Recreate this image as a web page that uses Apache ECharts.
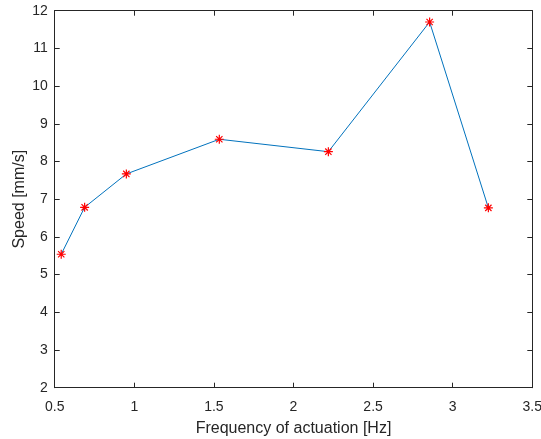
<!DOCTYPE html>
<html>
<head>
<meta charset="utf-8">
<script src="https://cdn.jsdelivr.net/npm/echarts@6/dist/echarts.min.js"></script>
<style>
html,body{margin:0;padding:0;background:#fff;}
#main{width:541px;height:439px;}
</style>
</head>
<body>
<div id="main"></div>
<script>
// measured points
var freq = [0.541, 0.688, 0.95, 1.534, 2.219, 2.855, 3.224];
var speed = [5.54, 6.785, 7.67, 8.59, 8.26, 11.70, 6.77];
var xTicks = [0.5, 1, 1.5, 2, 2.5, 3, 3.5];
var yTicks = [2, 3, 4, 5, 6, 7, 8, 9, 10, 11, 12];

var pts = freq.map(function(f, i){ return [f, speed[i]]; });
var axisColor = '#262626';
var font = 'Liberation Sans, Arial, sans-serif';
var star = 'path://M0 -5 L0 5 M-5 0 L5 0 M-3.5 -3.5 L3.5 3.5 M-3.5 3.5 L3.5 -3.5';

function xAx(pos, show){
    return {
        type: 'value', position: pos,
        min: xTicks[0], max: xTicks[xTicks.length - 1], interval: 0.5,
        name: show ? 'Frequency of actuation [Hz]' : '',
        nameLocation: 'middle', nameGap: 33,
        nameTextStyle: {color: axisColor, fontFamily: font, fontSize: 16},
        axisLine: {show: true, lineStyle: {color: axisColor, width: 1}},
        axisTick: {show: true, inside: true, length: 5, lineStyle: {color: axisColor}},
        axisLabel: {show: show, color: axisColor, fontFamily: font, fontSize: 14, margin: 12},
        splitLine: {show: false}
    };
}
function yAx(pos, show){
    return {
        type: 'value', position: pos,
        min: yTicks[0], max: yTicks[yTicks.length - 1], interval: 1,
        name: show ? 'Speed [mm/s]' : '',
        nameLocation: 'middle', nameGap: 27, nameMoveOverlap: false,
        nameTextStyle: {color: axisColor, fontFamily: font, fontSize: 16},
        axisLine: {show: true, lineStyle: {color: axisColor, width: 1}},
        axisTick: {show: true, inside: true, length: 5, lineStyle: {color: axisColor}},
        axisLabel: {show: show, color: axisColor, fontFamily: font, fontSize: 14, margin: 7},
        splitLine: {show: false}
    };
}

var myChart = echarts.init(document.getElementById('main'));
myChart.setOption({
    animation: false,
    grid: {left: 54.7, right: 8.7, top: 10.7, bottom: 51.3, containLabel: false, outerBoundsMode: 'none'},
    xAxis: [xAx('bottom', true), xAx('top', false)],
    yAxis: [yAx('left', true), yAx('right', false)],
    series: [{
        type: 'line',
        data: pts,
        symbol: star,
        symbolSize: 9,
        showAllSymbol: true,
        lineStyle: {color: '#0072BD', width: 1},
        itemStyle: {color: '#FF0000', borderColor: '#FF0000', borderWidth: 1.2}
    }]
});
</script>
</body>
</html>
